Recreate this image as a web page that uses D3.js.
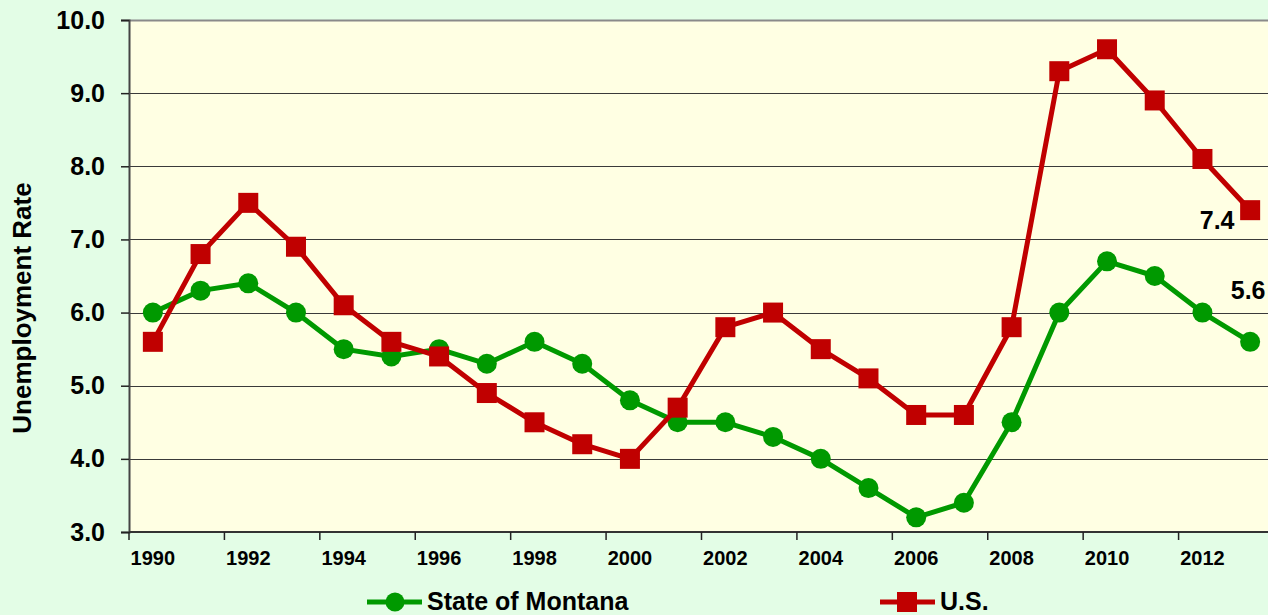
<!DOCTYPE html>
<html>
<head>
<meta charset="utf-8">
<script src="https://cdn.jsdelivr.net/npm/d3@7"></script>
<style>
  body { margin: 0; background: #e3fde6; }
  svg { display: block; font-family: Arial, "Liberation Sans", sans-serif; font-weight: bold; }
</style>
</head>
<body>
<script>
// data
var years = [1990, 1991, 1992, 1993, 1994, 1995, 1996, 1997, 1998, 1999, 2000, 2001,
             2002, 2003, 2004, 2005, 2006, 2007, 2008, 2009, 2010, 2011, 2012, 2013];
var montana = [6.0, 6.3, 6.4, 6.0, 5.5, 5.4, 5.5, 5.3, 5.6, 5.3, 4.8, 4.5,
               4.5, 4.3, 4.0, 3.6, 3.2, 3.4, 4.5, 6.0, 6.7, 6.5, 6.0, 5.6];
var us = [5.6, 6.8, 7.5, 6.9, 6.1, 5.6, 5.4, 4.9, 4.5, 4.2, 4.0, 4.7,
          5.8, 6.0, 5.5, 5.1, 4.6, 4.6, 5.8, 9.3, 9.6, 8.9, 8.1, 7.4];
var yTicks = [3, 4, 5, 6, 7, 8, 9, 10];
var xLabels = [1990, 1992, 1994, 1996, 1998, 2000, 2002, 2004, 2006, 2008, 2010, 2012];

var canvas_width = 1268, canvas_height = 615;
var plotLeft = 129, plotRight = 1274, plotTop = 20, plotBottom = 532;
var green = "#009900", red = "#c00000";

var svg = d3.select("body")
    .append("svg")
    .attr("width", canvas_width)
    .attr("height", canvas_height);

svg.append("rect")
    .attr("width", canvas_width).attr("height", canvas_height)
    .attr("fill", "#e3fde6");

var x = d3.scaleBand().domain(years).range([plotLeft, plotRight]).padding(0);
var y = d3.scaleLinear().domain([3, 10]).range([plotBottom, plotTop]);
var cx = function(i) { return x(years[i]) + x.bandwidth() / 2; };

// plot area
svg.append("rect")
    .attr("x", plotLeft).attr("y", plotTop)
    .attr("width", plotRight - plotLeft).attr("height", plotBottom - plotTop)
    .attr("fill", "#ffffe3");

// gridlines
svg.append("g").selectAll("line")
    .data(yTicks.slice(1))
    .enter().append("line")
        .attr("x1", plotLeft).attr("x2", plotRight)
        .attr("y1", function(d) { return Math.round(y(d)) + 0.5; })
        .attr("y2", function(d) { return Math.round(y(d)) + 0.5; })
        .attr("stroke", function(d) { return d == 10 ? "#8a8a8a" : "#3a3a3a"; })
        .attr("stroke-width", function(d) { return d == 10 ? 2 : 1.2; });

// y axis
var yAxis = svg.append("g")
    .attr("transform", "translate(" + plotLeft + ",0)")
    .call(d3.axisLeft(y).tickValues(yTicks).tickSize(8).tickPadding(16).tickFormat(d3.format(".1f")));
yAxis.select(".domain").attr("stroke", "#444").attr("stroke-width", 2);
yAxis.selectAll(".tick line").attr("stroke", "#222").attr("stroke-width", 1.5);
yAxis.selectAll("text")
    .attr("font-size", 25).attr("font-weight", "bold").attr("fill", "#000")
    .attr("font-family", "Arial, 'Liberation Sans', sans-serif");

// x axis labels (centered on the year) and ticks at the category edges
var xAxis = svg.append("g")
    .attr("transform", "translate(0," + plotBottom + ")")
    .call(d3.axisBottom(x).tickValues(xLabels).tickSize(0).tickPadding(19));
xAxis.select(".domain").remove();
xAxis.selectAll("text")
    .attr("font-size", 20).attr("font-weight", "bold").attr("fill", "#000")
    .attr("font-family", "Arial, 'Liberation Sans', sans-serif");

svg.append("line")
    .attr("x1", plotLeft).attr("x2", plotRight)
    .attr("y1", plotBottom).attr("y2", plotBottom)
    .attr("stroke", "#333").attr("stroke-width", 2);

svg.append("g").selectAll("line")
    .data(xLabels.concat([2014]))
    .enter().append("line")
        .attr("x1", function(d) { return d == 2014 ? plotRight : x(d); })
        .attr("x2", function(d) { return d == 2014 ? plotRight : x(d); })
        .attr("y1", plotBottom).attr("y2", plotBottom + 8)
        .attr("stroke", "#222").attr("stroke-width", 1.5);

// y title
svg.append("text")
    .attr("transform", "translate(31,308) rotate(-90)")
    .attr("text-anchor", "middle")
    .attr("font-size", 26)
    .text("Unemployment Rate");

var line = d3.line()
    .x(function(d, i) { return cx(i); })
    .y(function(d) { return y(d); });

// Montana
svg.append("path")
    .datum(montana)
    .attr("d", line)
    .attr("fill", "none").attr("stroke", green).attr("stroke-width", 5)
    .attr("stroke-linejoin", "round");
svg.append("g").selectAll("circle")
    .data(montana)
    .enter().append("circle")
        .attr("cx", function(d, i) { return cx(i); })
        .attr("cy", function(d) { return y(d); })
        .attr("r", 10)
        .attr("fill", green);

// U.S.
svg.append("path")
    .datum(us)
    .attr("d", line)
    .attr("fill", "none").attr("stroke", red).attr("stroke-width", 5)
    .attr("stroke-linejoin", "round");
svg.append("g").selectAll("rect")
    .data(us)
    .enter().append("rect")
        .attr("x", function(d, i) { return cx(i) - 10; })
        .attr("y", function(d) { return y(d) - 10; })
        .attr("width", 20).attr("height", 20)
        .attr("fill", red);

// end labels
var last = years.length - 1;
svg.append("text")
    .attr("x", cx(last) - 33).attr("y", y(us[last]) + 19)
    .attr("text-anchor", "middle").attr("font-size", 25)
    .text(us[last].toFixed(1));
svg.append("text")
    .attr("x", cx(last) - 2).attr("y", y(montana[last]) - 43)
    .attr("text-anchor", "middle").attr("font-size", 25)
    .text(montana[last].toFixed(1));

// legend
var legend = [
    { name: "State of Montana", color: green, shape: "circle", x0: 367 },
    { name: "U.S.", color: red, shape: "square", x0: 880 }
];
var lg = svg.append("g").selectAll("g")
    .data(legend)
    .enter().append("g")
        .attr("transform", function(d) { return "translate(" + d.x0 + ",602)"; });
lg.append("line")
    .attr("x1", 0).attr("x2", 55).attr("y1", 0).attr("y2", 0)
    .attr("stroke", function(d) { return d.color; }).attr("stroke-width", 5);
lg.filter(function(d) { return d.shape == "circle"; })
    .append("circle").attr("cx", 28).attr("r", 9.5)
    .attr("fill", function(d) { return d.color; });
lg.filter(function(d) { return d.shape == "square"; })
    .append("rect").attr("x", 17).attr("y", -10).attr("width", 20).attr("height", 20)
    .attr("fill", function(d) { return d.color; });
lg.append("text")
    .attr("x", 60).attr("y", 8)
    .attr("font-size", 25)
    .text(function(d) { return d.name; });
</script>
</body>
</html>
